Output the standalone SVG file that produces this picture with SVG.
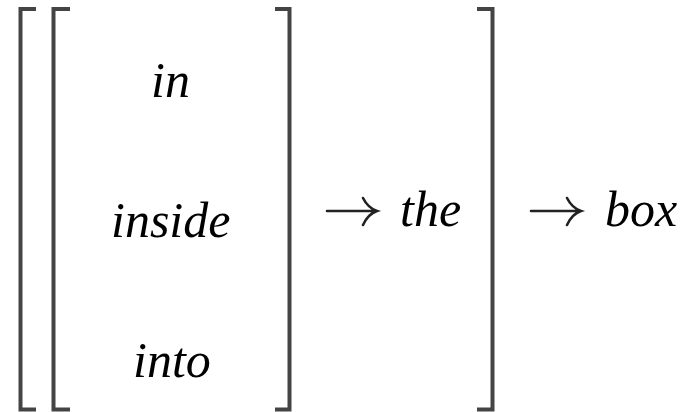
<svg xmlns="http://www.w3.org/2000/svg" width="698" height="412" viewBox="0 0 698 412">
<style>
.br{fill:none;stroke:#444;stroke-width:4;stroke-linecap:butt;stroke-linejoin:miter}
.ar{fill:none;stroke:#222;stroke-width:2.6;stroke-linecap:round}
</style>
<rect width="698" height="412" fill="#fff"/>
<g id="brackets">
<path class="br" d="M36,9 H20.5 V409.5 H36"/>
<path class="br" d="M70,9 H53.5 V409.5 H70"/>
<path class="br" d="M275,9 H289.5 V409.5 H275"/>
<path class="br" d="M477,9 H492.5 V409.5 H477"/>
</g>
<g id="node-in"><text x="151" y="97" font-family="Liberation Serif" font-style="italic" font-size="50">in</text></g>
<g id="node-inside"><text x="111" y="237" font-family="Liberation Serif" font-style="italic" font-size="50">inside</text></g>
<g id="node-into"><text x="133" y="377" font-family="Liberation Serif" font-style="italic" font-size="50">into</text></g>
<g id="node-the"><text x="400" y="226" font-family="Liberation Serif" font-style="italic" font-size="50">the</text></g>
<g id="node-box"><text x="605" y="226" font-family="Liberation Serif" font-style="italic" font-size="50">box</text></g>
<g id="connectors">
<path class="ar" d="M327,211 H376 M363,198 Q368,208 377,211 Q368,214 363,225"/>
<path class="ar" d="M531,211 H580 M567,198 Q572,208 581,211 Q572,214 567,225"/>
</g>
</svg>
